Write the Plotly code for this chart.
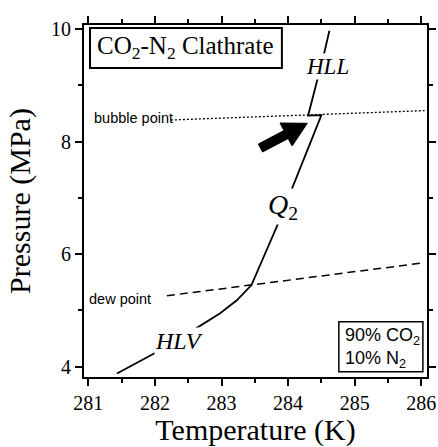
import plotly.graph_objects as go

# Hydrate equilibrium curve, split into its three branches (T in K, P in MPa)
hlv_T = [281.43, 282.03, 282.63, 282.98, 283.23, 283.45]
hlv_P = [3.88, 4.26, 4.69, 4.95, 5.18, 5.45]
q2_T = [283.83, 284.07, 284.23, 284.50]
q2_P = [6.49, 7.20, 7.64, 8.47]
hll_T = [284.30, 284.44, 284.53, 284.62]
hll_P = [8.46, 9.09, 9.51, 9.97]

# Phase-envelope lines of the 90/10 mixture
bubble_T = [282.24, 286.05]
bubble_P = [8.383, 8.55]
dew_T = [282.18, 286.0]
dew_P = [5.26, 5.84]

x_ticks = [281, 282, 283, 284, 285, 286]
y_ticks = [4, 6, 8, 10]

SERIF = "Liberation Serif"
SANS = "Liberation Sans"

fig = go.Figure()

fig.add_trace(go.Scatter(
    x=bubble_T, y=bubble_P, mode="lines",
    line=dict(color="black", width=1.3, dash="2px,2px"),
    hoverinfo="skip", showlegend=False))
fig.add_trace(go.Scatter(
    x=dew_T, y=dew_P, mode="lines",
    line=dict(color="black", width=1.5, dash="8px,5px"),
    hoverinfo="skip", showlegend=False))
fig.add_trace(go.Scatter(
    x=hlv_T + q2_T + hll_T, y=hlv_P + q2_P + hll_P, mode="lines",
    line=dict(color="black", width=1.8),
    hoverinfo="skip", showlegend=False))

axis_common = dict(
    showline=True, linewidth=2, linecolor="black", mirror="allticks",
    ticks="outside", ticklen=7, tickwidth=1.5, tickcolor="black",
    showgrid=False, zeroline=False, automargin=False,
    tickfont=dict(family=SERIF, size=20, color="black"),
)

fig.update_xaxes(
    range=[280.935, 286.086], tickvals=x_ticks,
    ticktext=[str(v) for v in x_ticks],
    minor=dict(dtick=0.5, tick0=281, ticks="outside", ticklen=4,
               tickwidth=1.5, tickcolor="black"),
    title=dict(text="Temperature (K)",
               font=dict(family=SERIF, size=30, color="black"), standoff=15),
    **axis_common)
fig.update_yaxes(
    range=[3.817, 10.071], tickvals=y_ticks,
    ticktext=[str(v) for v in y_ticks],
    minor=dict(dtick=1, tick0=4, ticks="outside", ticklen=4,
               tickwidth=1.5, tickcolor="black"),
    title=dict(text="Pressure (MPa)",
               font=dict(family=SERIF, size=30, color="black"), standoff=12),
    **axis_common)

# Branch labels; white backing breaks the curve under each label
branch_labels = [
    ("<i>HLV</i>", 282.362, 4.46, 24),
    ("<i>HLL</i>", 284.585, 9.334, 23),
    ("<i>Q</i><sub>2</sub>", 283.92, 6.85, 28),
]
for text, tx, ty, size in branch_labels:
    fig.add_annotation(x=tx, y=ty, text=text, showarrow=False,
                       xanchor="center", yanchor="middle",
                       bgcolor="white", borderpad=0,
                       font=dict(family=SERIF, size=size, color="black"))

fig.add_annotation(x=281.056, y=8.419, text="bubble point", showarrow=False,
                   xanchor="left", yanchor="middle",
                   font=dict(family=SANS, size=14.5, color="black"))
fig.add_annotation(x=280.98, y=5.211, text="dew point", showarrow=False,
                   xanchor="left", yanchor="middle",
                   font=dict(family=SANS, size=14.5, color="black"))

# Boxed captions
fig.add_shape(type="rect", xref="paper", yref="paper",
              x0=0.0175, x1=0.577, y0=0.878, y1=0.9915,
              line=dict(color="black", width=2), fillcolor="white")
fig.add_annotation(xref="paper", yref="paper", x=0.297, y=0.935,
                   text="CO<sub>2</sub>-N<sub>2</sub> Clathrate",
                   showarrow=False, xanchor="center", yanchor="middle",
                   font=dict(family=SERIF, size=25, color="black"))

fig.add_shape(type="rect", xref="paper", yref="paper",
              x0=0.743, x1=0.988, y0=0.015, y1=0.157,
              line=dict(color="black", width=1.5), fillcolor="white")
fig.add_annotation(xref="paper", yref="paper", x=0.755, y=0.081,
                   text="90% CO<sub>2</sub><br>10% N<sub>2</sub>",
                   showarrow=False, xanchor="left", yanchor="middle",
                   align="left",
                   font=dict(family=SANS, size=18, color="black"))

# Block arrow pointing at the bubble-point crossing
arrow_pts = [
    (284.2883, 8.3245), (284.0608, 7.9211), (284.0012, 8.0545),
    (283.6164, 7.8140), (283.5533, 7.9554), (283.9381, 8.1960),
    (283.8785, 8.3294),
]
path = "M " + " L ".join(f"{px},{py}" for px, py in arrow_pts) + " Z"
fig.add_shape(type="path", xref="x", yref="y", path=path,
              fillcolor="black", line=dict(color="black", width=1))

fig.update_layout(
    width=438, height=447,
    margin=dict(l=84, r=11, t=25, b=70, autoexpand=False),
    paper_bgcolor="white", plot_bgcolor="white",
    showlegend=False,
)

fig.write_html("out.html")
